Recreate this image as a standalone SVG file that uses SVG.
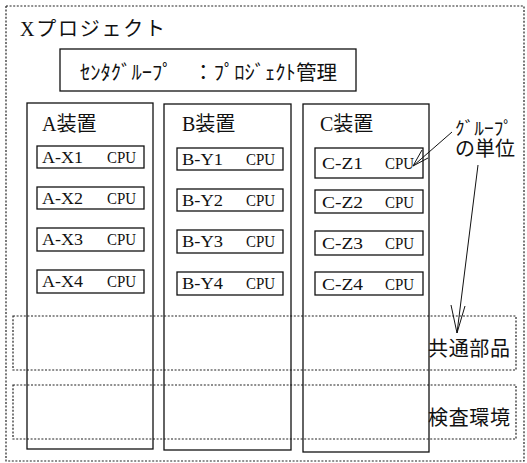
<svg xmlns="http://www.w3.org/2000/svg" width="527" height="463" viewBox="0 0 527 463">
<style>
.solid{fill:none;stroke:#111;stroke-width:1.3}
.dot{fill:none;stroke:#222;stroke-width:1.2;stroke-dasharray:2 1.6}
.jp{font-family:"Liberation Serif","Noto Sans CJK JP",serif;fill:#111}
.mono{font-family:"Liberation Serif","Noto Sans CJK JP",serif;font-size:17px;fill:#111}
.ln{fill:none;stroke:#111;stroke-width:1}
</style>
<rect width="527" height="463" fill="#fff"/>
<g id="project">
<rect class="dot" x="6" y="6" width="518" height="455"/>
<text class="jp" x="20" y="36" font-size="20" textLength="145" lengthAdjust="spacing">Xプロジェクト</text>
</g>
<g id="center-group">
<rect class="solid" x="60" y="49" width="296" height="42"/>
<text class="jp" x="80" y="80" font-size="20" textLength="257" lengthAdjust="spacingAndGlyphs">ｾﾝﾀｸﾞﾙｰﾌﾟ　：ﾌﾟﾛｼﾞｪｸﾄ管理</text>
</g>
<g id="common-parts">
<rect class="dot" x="13" y="316" width="503" height="54"/>
<text class="jp" x="428" y="356" font-size="20" textLength="82">共通部品</text>
</g>
<g id="test-env">
<rect class="dot" x="13" y="385" width="503" height="54"/>
<text class="jp" x="428" y="425" font-size="20" textLength="82">検査環境</text>
</g>
<g id="device-a">
<rect class="solid" x="27" y="103" width="126" height="346"/>
<text class="jp" x="42" y="131" font-size="20">A装置</text>
</g>
<g id="device-b">
<rect class="solid" x="164" y="104" width="127" height="346"/>
<text class="jp" x="182" y="131" font-size="20">B装置</text>
</g>
<g id="device-c">
<rect class="solid" x="303" y="104" width="126" height="348"/>
<text class="jp" x="320" y="131" font-size="20">C装置</text>
</g>
<g id="a-x1"><rect class="solid" x="37" y="146" width="107" height="22"/><text class="mono" x="42" y="163" textLength="41" lengthAdjust="spacingAndGlyphs">A-X1</text><text class="mono" x="107" y="163" textLength="29" lengthAdjust="spacingAndGlyphs">CPU</text></g>
<g id="a-x2"><rect class="solid" x="37" y="187" width="107" height="22"/><text class="mono" x="42" y="204" textLength="41" lengthAdjust="spacingAndGlyphs">A-X2</text><text class="mono" x="107" y="204" textLength="29" lengthAdjust="spacingAndGlyphs">CPU</text></g>
<g id="a-x3"><rect class="solid" x="37" y="228" width="107" height="23"/><text class="mono" x="42" y="245" textLength="41" lengthAdjust="spacingAndGlyphs">A-X3</text><text class="mono" x="107" y="245" textLength="29" lengthAdjust="spacingAndGlyphs">CPU</text></g>
<g id="a-x4"><rect class="solid" x="37" y="270" width="107" height="23"/><text class="mono" x="42" y="287" textLength="41" lengthAdjust="spacingAndGlyphs">A-X4</text><text class="mono" x="107" y="287" textLength="29" lengthAdjust="spacingAndGlyphs">CPU</text></g>
<g id="b-y1"><rect class="solid" x="177" y="148" width="106" height="22"/><text class="mono" x="182" y="165" textLength="41" lengthAdjust="spacingAndGlyphs">B-Y1</text><text class="mono" x="246" y="165" textLength="29" lengthAdjust="spacingAndGlyphs">CPU</text></g>
<g id="b-y2"><rect class="solid" x="177" y="189" width="106" height="22"/><text class="mono" x="182" y="206" textLength="41" lengthAdjust="spacingAndGlyphs">B-Y2</text><text class="mono" x="246" y="206" textLength="29" lengthAdjust="spacingAndGlyphs">CPU</text></g>
<g id="b-y3"><rect class="solid" x="177" y="230" width="106" height="23"/><text class="mono" x="182" y="247" textLength="41" lengthAdjust="spacingAndGlyphs">B-Y3</text><text class="mono" x="246" y="247" textLength="29" lengthAdjust="spacingAndGlyphs">CPU</text></g>
<g id="b-y4"><rect class="solid" x="177" y="272" width="106" height="23"/><text class="mono" x="182" y="289" textLength="41" lengthAdjust="spacingAndGlyphs">B-Y4</text><text class="mono" x="246" y="289" textLength="29" lengthAdjust="spacingAndGlyphs">CPU</text></g>
<g id="c-z1"><rect class="solid" x="315" y="148" width="108" height="30"/><text class="mono" x="322" y="169" textLength="41" lengthAdjust="spacingAndGlyphs">C-Z1</text><text class="mono" x="385" y="169" textLength="29" lengthAdjust="spacingAndGlyphs">CPU</text></g>
<g id="c-z2"><rect class="solid" x="315" y="190" width="108" height="23"/><text class="mono" x="322" y="208" textLength="41" lengthAdjust="spacingAndGlyphs">C-Z2</text><text class="mono" x="385" y="208" textLength="29" lengthAdjust="spacingAndGlyphs">CPU</text></g>
<g id="c-z3"><rect class="solid" x="315" y="231" width="108" height="24"/><text class="mono" x="322" y="249" textLength="41" lengthAdjust="spacingAndGlyphs">C-Z3</text><text class="mono" x="385" y="249" textLength="29" lengthAdjust="spacingAndGlyphs">CPU</text></g>
<g id="c-z4"><rect class="solid" x="315" y="272" width="108" height="23"/><text class="mono" x="322" y="290" textLength="41" lengthAdjust="spacingAndGlyphs">C-Z4</text><text class="mono" x="385" y="290" textLength="29" lengthAdjust="spacingAndGlyphs">CPU</text></g>
<g id="group-unit">
<text class="jp" x="455" y="135" font-size="18" textLength="58" lengthAdjust="spacingAndGlyphs">ｸﾞﾙｰﾌﾟ</text>
<text class="jp" x="455" y="156" font-size="20">の単位</text>
</g>
<g id="connectors">
<path class="ln" d="M452 132 L413 166 M413 166 L422 150 M413 166 L428 158"/>
<path class="ln" d="M478 165 L457 333 M457 333 L451 305 M457 333 L465 306"/>
</g>
</svg>
